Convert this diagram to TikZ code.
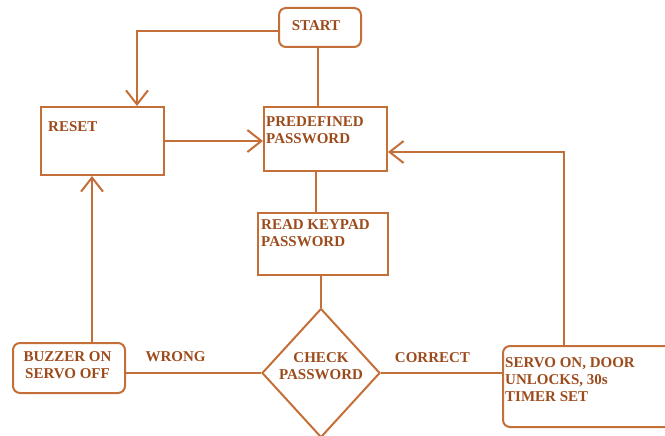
\documentclass[tikz,border=0pt]{standalone}
\usepackage{fontspec}
\setmainfont{Liberation Serif}
\usetikzlibrary{arrows.meta,shapes.geometric,calc}
\definecolor{ln}{HTML}{C46E38}
\definecolor{tx}{HTML}{9C4B1C}
\begin{document}
\begin{tikzpicture}[x=1pt,y=-1pt,
  every node/.style={font=\bfseries\fontsize{15}{17}\selectfont, text=tx},
  box/.style={draw=ln, line width=2pt, inner sep=0pt},
  rbox/.style={box, rounded corners=7pt},
  lbl/.style={anchor=north west, inner sep=0pt, align=left},
  conn/.style={draw=ln, line width=2pt},
  arr/.style={conn, -{Straight Barb[length=14pt,width=22pt,line width=2pt]}}]
\useasboundingbox (0,0) rectangle (665,436);
\node[rbox, minimum width=82, minimum height=39,
  label={[inner sep=0pt, xshift=-4, yshift=2]center:START}] (start) at (320,27.5) {};
\node[box, minimum width=123, minimum height=68,
  label={[lbl, xshift=8, yshift=-15]north west:RESET}] (reset) at (102.5,141) {};
\node[box, minimum width=123, minimum height=64,
  label={[lbl, xshift=3, yshift=-10]north west:PREDEFINED\\PASSWORD}] (pre) at (325.5,139) {};
\node[box, minimum width=130, minimum height=62,
  label={[lbl, xshift=4, yshift=-7]north west:READ KEYPAD\\PASSWORD}] (read) at (323,244) {};
\node[draw=ln, line width=2pt, shape=diamond, minimum width=118, minimum height=129, inner sep=0pt,
  label={[align=center, inner sep=0pt, yshift=6.5]center:CHECK\\PASSWORD}] (dia) at (321,373) {};
\node[rbox, minimum width=172, minimum height=81,
  label={[lbl, xshift=3, yshift=-12]north west:SERVO ON, DOOR\\UNLOCKS, 30s\\TIMER SET}] (servo) at (589,386.5) {};
\node[rbox, minimum width=112, minimum height=50,
  label={[align=center, inner sep=0pt, xshift=-1.5, yshift=2.5]center:BUZZER ON\\SERVO OFF}] (buzz) at (69,368) {};
\node[inner sep=0pt] (wrong) at (175.5,357) {WRONG};
\node[inner sep=0pt] (correct) at (432.5,357.5) {CORRECT};
\draw[arr] ([yshift=-4]start.west) -| ([xshift=34.5]reset.north);
\draw[conn] ([xshift=-2]start.south) -- ([xshift=-2]start.south |- pre.north);
\draw[arr] (reset.east) -- (reset.east -| pre.west);
\draw[conn] ([xshift=-10]pre.south) -- ([xshift=-10]pre.south |- read.north);
\draw[conn] (read.south -| dia.north) -- (dia.north);
\draw[conn] (dia.east) -- (dia.east -| servo.west);
\draw[arr] ([xshift=62]servo.north west) |- ([yshift=-13]pre.east);
\draw[conn] (dia.west) -- (dia.west -| buzz.east);
\draw[arr] ([xshift=23]buzz.north) -- ([xshift=23]buzz.north |- reset.south);
\end{tikzpicture}
\end{document}
